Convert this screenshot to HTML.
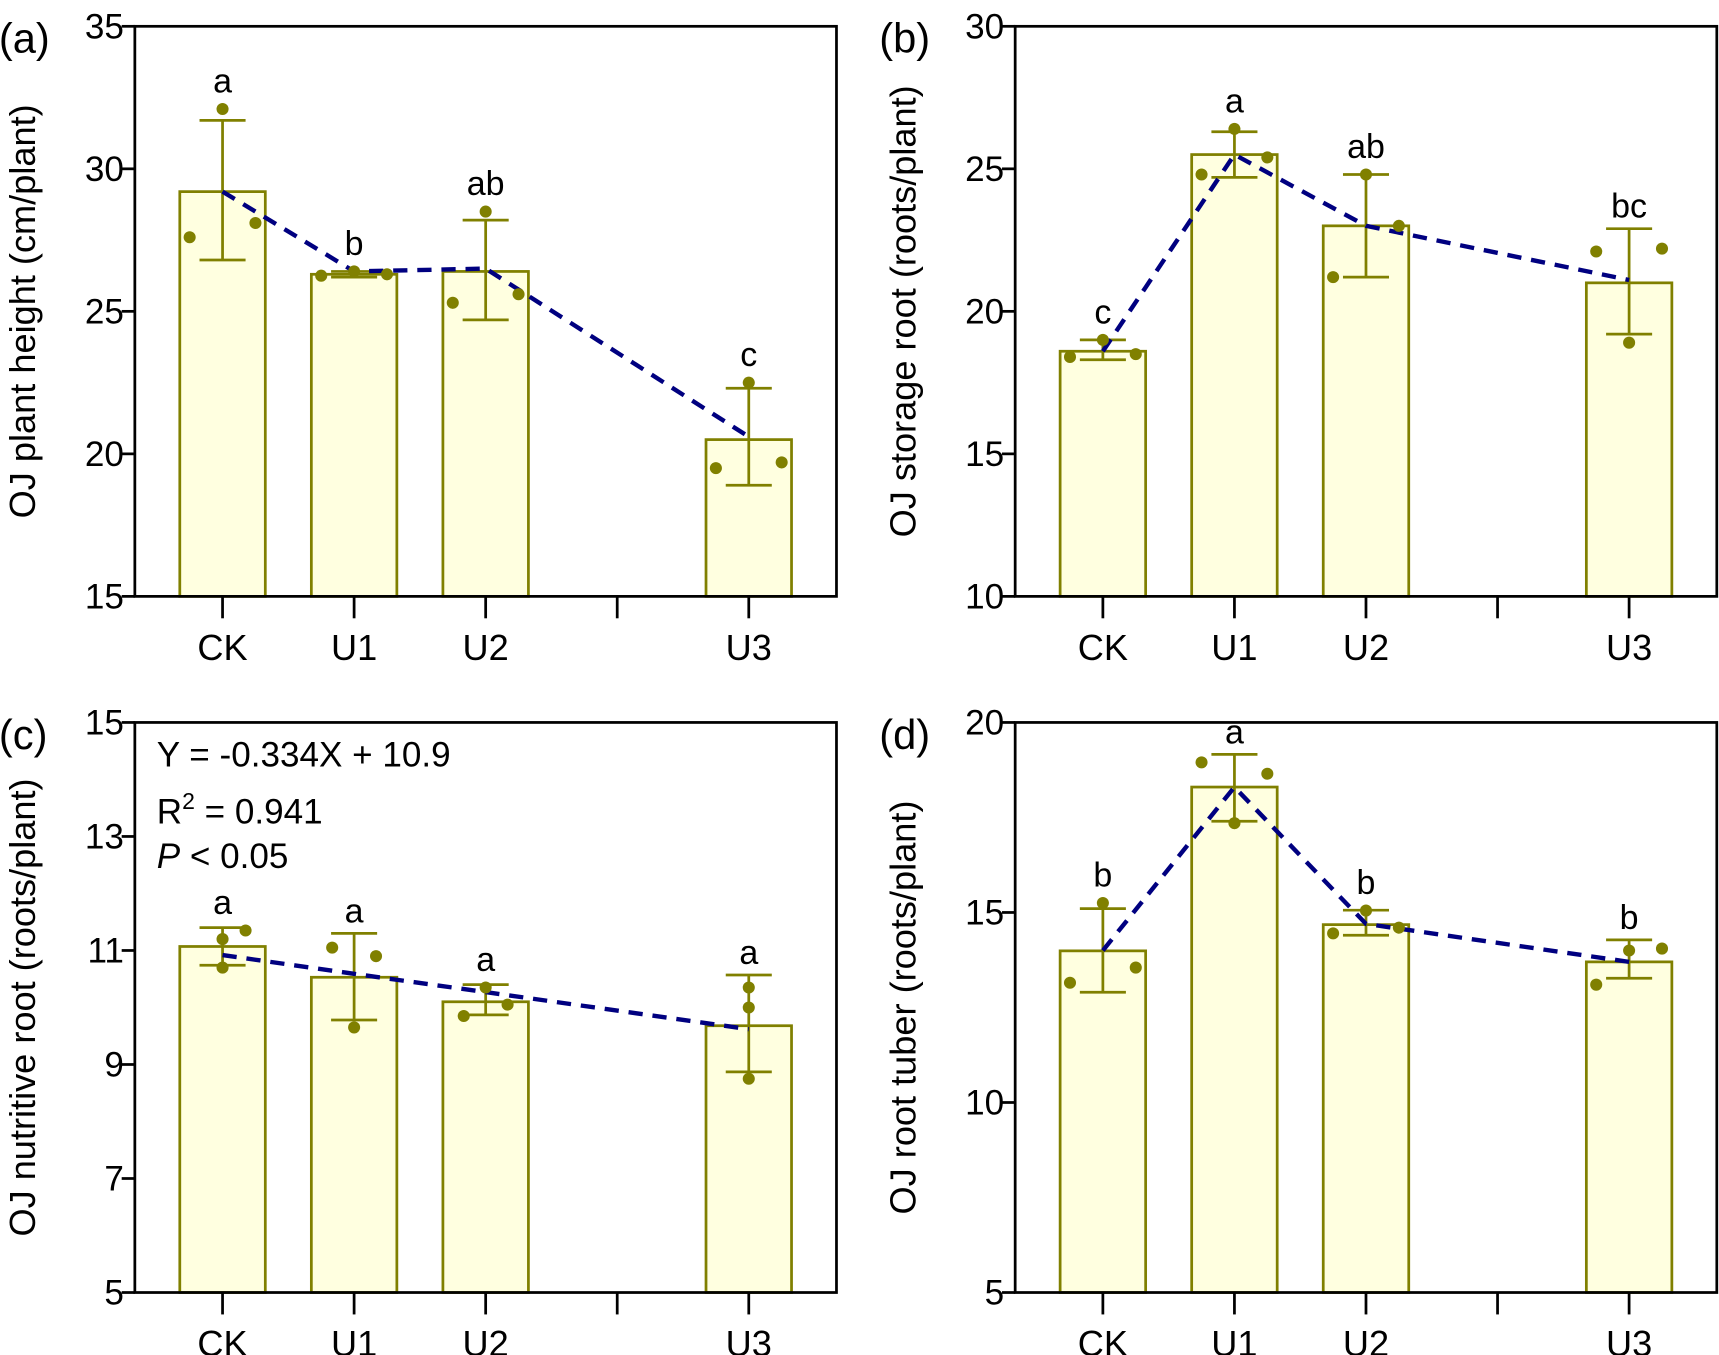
<!DOCTYPE html>
<html><head><meta charset="utf-8"><style>
html,body{margin:0;padding:0;background:#fff;}
svg{display:block;font-family:"Liberation Sans",Arial,sans-serif;}
</style></head><body>
<svg id="chart" width="1719" height="1355" viewBox="0 0 1568 1236" preserveAspectRatio="none" xmlns="http://www.w3.org/2000/svg"></svg>
<script>
const categories = ["CK","U1","U2","U3"];
const catSlots = [0,1,2,4];
const aMeans = [29.2,26.3,26.4,20.5];
const aLow = [26.8,26.2,24.7,18.9];
const aHigh = [31.7,26.4,28.2,22.3];
const aPoints = [[27.6,32.1,28.1],[26.25,26.4,26.3],[25.3,28.5,25.6],[19.5,22.5,19.7]];
const aLetters = ["a","b","ab","c"];
const aLine = [29.2,26.4,26.5,20.6];
const aTicks = [15,20,25,30,35];

const bMeans = [18.6,25.5,23.0,21.0];
const bLow = [18.3,24.7,21.2,19.2];
const bHigh = [19.0,26.3,24.8,22.9];
const bPoints = [[18.4,19.0,18.5],[24.8,26.4,25.4],[21.2,24.8,23.0],[22.1,18.9,22.2]];
const bLetters = ["c","a","ab","bc"];
const bLine = [18.6,25.5,23.0,21.1];
const bTicks = [10,15,20,25,30];

const cMeans = [11.07,10.53,10.1,9.68];
const cLow = [10.74,9.78,9.87,8.87];
const cHigh = [11.4,11.3,10.4,10.57];
const cPoints = [[11.2,11.35,10.7],[11.05,10.9,9.65],[9.85,10.35,10.05],[8.75,10.35,10.0]];
const cLetters = ["a","a","a","a"];
const cLine = [10.92,10.59,10.27,9.62];
const cTicks = [5,7,9,11,13,15];

const dMeans = [13.99,18.3,14.68,13.7];
const dLow = [12.9,17.4,14.4,13.27];
const dHigh = [15.1,19.16,15.06,14.28];
const dPoints = [[13.15,15.25,13.55],[18.95,17.35,18.65],[14.45,15.05,14.6],[13.1,14.0,14.05]];
const dLetters = ["b","a","b","b"];
const dLine = [14.0,18.3,14.7,13.7];
const dTicks = [5,10,15,20];

const stdJitter = [[-30,0,30],[-30,0,30],[-30,0,30],[-30,0,30]];
const cJitter = [[0,21,0],[-20,20,0],[-20,0,20],[0,0,0]];

const NS="http://www.w3.org/2000/svg";
const svg=document.getElementById('chart');
function mk(tag,attrs,parent,text){const e=document.createElementNS(NS,tag);for(const k in attrs)e.setAttribute(k,attrs[k]);if(text!==undefined)e.textContent=text;(parent||svg).appendChild(e);return e;}
const OL="#808000", FILL="#ffffe0", NAVY="#000080";

function panel(cfg){
  const g=mk('g',{});
  
  
  const L=cfg.x0,R=cfg.x0+640,T=cfg.y0,B=cfg.y0+520;
  const ymin=cfg.ticks[0],ymax=cfg.ticks[cfg.ticks.length-1];
  const y=v=>B-(v-ymin)/(ymax-ymin)*(B-T);
  const x=i=>L+80+catSlots[i]*120;
  cfg.means.forEach((m,i)=>{
    const r=mk('rect',{x:x(i)-39,y:y(m),width:78,height:B-y(m),fill:FILL,stroke:OL,'stroke-width':2.5},g);
    
    
  });
  cfg.means.forEach((m,i)=>{
    const eg=mk('g',{stroke:OL,'stroke-width':2.5},g);
    
    
    mk('line',{x1:x(i),x2:x(i),y1:y(cfg.low[i]),y2:y(cfg.high[i])},eg);
    mk('line',{x1:x(i)-21,x2:x(i)+21,y1:y(cfg.low[i]),y2:y(cfg.low[i])},eg);
    mk('line',{x1:x(i)-21,x2:x(i)+21,y1:y(cfg.high[i]),y2:y(cfg.high[i])},eg);
  });
  const pts=cfg.line.map((v,i)=>x(i)+','+y(v)).join(' ');
  const pl=mk('polyline',{points:pts,fill:'none',stroke:NAVY,'stroke-width':4,'stroke-dasharray':'13,9'},g);
  
  
  cfg.points.forEach((arr,i)=>{arr.forEach((v,j)=>{
    const c=mk('circle',{cx:x(i)+cfg.jitter[i][j],cy:y(v),r:5.5,fill:OL},g);
    
    
  });});
  cfg.letters.forEach((t,i)=>{
    const top=Math.min(y(cfg.high[i]),...cfg.points[i].map(v=>y(v)-5));
    const tx=mk('text',{x:x(i),y:top-10,'font-size':31,'text-anchor':'middle',fill:'#000'},g,t);
    
    
  });
  const ax=mk('g',{stroke:'#000','stroke-width':2.5,fill:'none'},g);
  
  
  mk('rect',{x:L,y:T,width:R-L,height:B-T},ax);
  cfg.ticks.forEach(v=>{
    mk('line',{x1:L-12,x2:L,y1:y(v),y2:y(v)},ax);
    const tl=mk('text',{x:L-10,y:y(v)+11,'font-size':32,'text-anchor':'end',fill:'#000',stroke:'none'},g,String(v));
    
    
  });
  [0,1,2,3,4].forEach(s=>mk('line',{x1:L+80+s*120,x2:L+80+s*120,y1:B,y2:B+20},ax));
  categories.forEach((c,i)=>{
    const tl=mk('text',{x:x(i),y:B+58,'font-size':33,'text-anchor':'middle',fill:'#000'},g,c);
    
    
  });
  const yt=mk('text',{x:0,y:0,'font-size':33,'text-anchor':'middle',fill:'#000',transform:`translate(${L-91},${(T+B)/2}) rotate(-90)`},g,cfg.title);
  
  
  const pl2=mk('text',{x:L-124,y:T+24,'font-size':38,fill:'#000'},g,'('+cfg.id+')');
  
  
  return g;
}
panel({id:'a',x0:123,y0:24,ticks:aTicks,means:aMeans,low:aLow,high:aHigh,points:aPoints,letters:aLetters,line:aLine,jitter:stdJitter,title:'OJ plant height (cm/plant)'});
panel({id:'b',x0:926,y0:24,ticks:bTicks,means:bMeans,low:bLow,high:bHigh,points:bPoints,letters:bLetters,line:bLine,jitter:stdJitter,title:'OJ storage root (roots/plant)'});
const gc=panel({id:'c',x0:123,y0:659,ticks:cTicks,means:cMeans,low:cLow,high:cHigh,points:cPoints,letters:cLetters,line:cLine,jitter:cJitter,title:'OJ  nutritive root (roots/plant)'});
panel({id:'d',x0:926,y0:659,ticks:dTicks,means:dMeans,low:dLow,high:dHigh,points:dPoints,letters:dLetters,line:dLine,jitter:stdJitter,title:'OJ root tuber (roots/plant)'});
const eq=mk('text',{x:143,y:699,'font-size':32,fill:'#000'},gc,'Y = -0.334X + 10.9');


const r2=mk('text',{x:143,y:751,'font-size':32,fill:'#000'},gc);


r2.innerHTML='R<tspan dy="-13" font-size="21">2</tspan><tspan dy="13"> = 0.941</tspan>';
const pv=mk('text',{x:143,y:792,'font-size':32,fill:'#000'},gc);


pv.innerHTML='<tspan font-style="italic">P</tspan> &lt; 0.05';
</script>
</body></html>
